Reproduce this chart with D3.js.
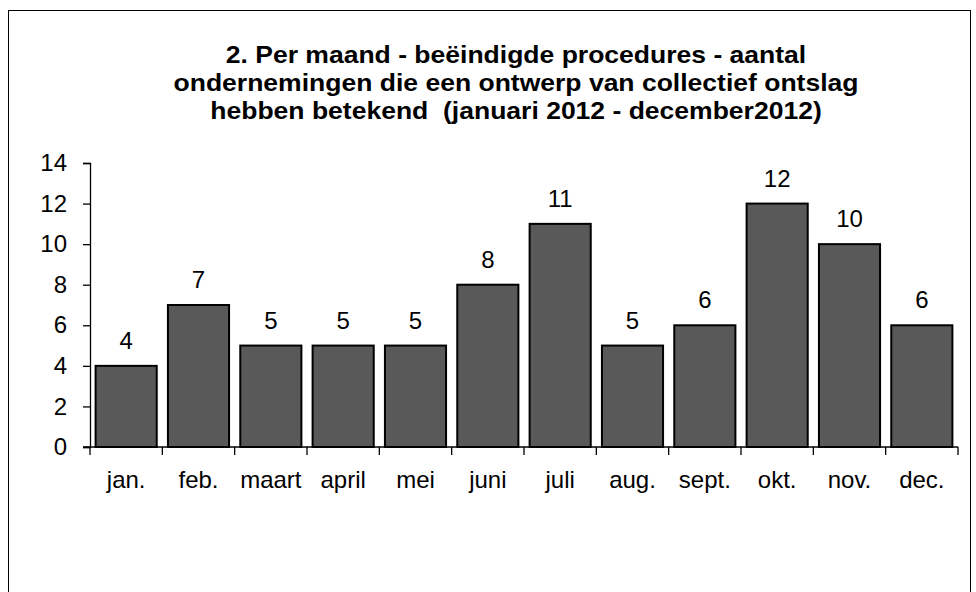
<!DOCTYPE html>
<html>
<head>
<meta charset="utf-8">
<script src="https://cdn.jsdelivr.net/npm/d3@7/dist/d3.min.js"></script>
<style>
  body { margin: 0; background: #fff; }
  svg { display: block; font-family: Arial, "Liberation Sans", sans-serif; }
</style>
</head>
<body>
<svg id="chart" width="976" height="592"></svg>
<script>
// Chart data
const months = ['jan.', 'feb.', 'maart', 'april', 'mei', 'juni', 'juli', 'aug.', 'sept.', 'okt.', 'nov.', 'dec.'];
const counts = [4, 7, 5, 5, 5, 8, 11, 5, 6, 12, 10, 6];
const yTicks = [0, 2, 4, 6, 8, 10, 12, 14];
const titleLines = [
  '2. Per maand - beëindigde procedures - aantal',
  'ondernemingen die een ontwerp van collectief ontslag',
  'hebben betekend  (januari 2012 - december2012)'
];

const svg = d3.select('#chart');

// Outer frame
svg.append('rect')
  .attr('x', 8.5).attr('y', 10.5)
  .attr('width', 962).attr('height', 600)
  .attr('fill', 'none')
  .attr('stroke', '#000')
  .attr('stroke-width', 1);

// Title (slightly stretched horizontally like the original rendering)
svg.append('g')
  .attr('transform', 'translate(516,0) scale(1.105,1)')
  .append('text')
  .attr('text-anchor', 'middle')
  .attr('font-size', 24)
  .attr('font-weight', 'bold')
  .selectAll('tspan')
  .data(titleLines)
  .join('tspan')
  .attr('x', 0)
  .attr('y', (d, i) => 63 + i * 28)
  .attr('xml:space', 'preserve')
  .style('white-space', 'pre')
  .text((d) => d);

// Scales
const x = d3.scaleBand()
  .domain(months)
  .range([90, 958])
  .paddingInner(0.155)
  .paddingOuter(0.0775);

const y = d3.scaleLinear()
  .domain([0, 14])
  .range([447, 163]);

// Bars
svg.append('g')
  .selectAll('rect')
  .data(counts)
  .join('rect')
  .attr('x', (d, i) => x(months[i]))
  .attr('y', (d) => y(d))
  .attr('width', x.bandwidth())
  .attr('height', (d) => y(0) - y(d))
  .attr('fill', '#595959')
  .attr('stroke', '#000')
  .attr('stroke-width', 2);

// Value labels
svg.append('g')
  .selectAll('text')
  .data(counts)
  .join('text')
  .attr('x', (d, i) => x(months[i]) + x.bandwidth() / 2)
  .attr('y', (d) => y(d) - 17)
  .attr('text-anchor', 'middle')
  .attr('font-size', 24)
  .attr('fill', '#000')
  .text((d) => d);

// Y axis
const yAxis = svg.append('g')
  .attr('transform', 'translate(90,0)')
  .call(d3.axisLeft(y).tickValues(yTicks).tickSize(7).tickPadding(16));
yAxis.selectAll('text').attr('font-size', 24).attr('fill', '#000').attr('font-family', 'Arial, "Liberation Sans", sans-serif');
yAxis.selectAll('line, path').attr('stroke', '#000').attr('stroke-width', 1.3);

// X axis: ticks on band edges
const xAxis = svg.append('g').attr('transform', `translate(0,${y(0)})`);
xAxis.append('line')
  .attr('x1', 83).attr('x2', 958)
  .attr('stroke', '#000').attr('stroke-width', 1.3);
const edges = months.map((m) => x(m) - x.step() * 0.0775).concat([958]);
xAxis.selectAll('line.tick')
  .data(edges)
  .join('line')
  .attr('class', 'tick')
  .attr('x1', (d) => d).attr('x2', (d) => d)
  .attr('y1', 0).attr('y2', 8)
  .attr('stroke', '#000').attr('stroke-width', 1.3);
xAxis.selectAll('text')
  .data(months)
  .join('text')
  .attr('x', (d) => x(d) + x.bandwidth() / 2)
  .attr('y', 41)
  .attr('text-anchor', 'middle')
  .attr('font-size', 24)
  .attr('fill', '#000')
  .text((d) => d);
</script>
</body>
</html>
